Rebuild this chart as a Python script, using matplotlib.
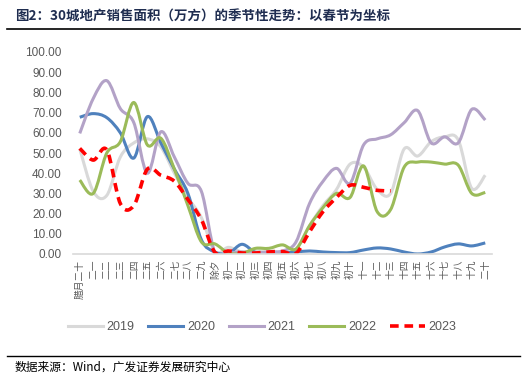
import matplotlib
matplotlib.use("Agg")
import matplotlib.pyplot as plt
from matplotlib.path import Path
from matplotlib.patches import PathPatch
from matplotlib.lines import Line2D
import numpy as np

plt.rcParams['font.family'] = ['Liberation Sans', 'Noto Sans CJK SC', 'DejaVu Sans']

x_labels = ['腊月二十', '二一', '二二', '二三', '二四', '二五', '二六', '二七', '二八', '二九',
            '除夕', '初一', '初二', '初三', '初四', '初五', '初六', '初七', '初八', '初九', '初十',
            '十一', '十二', '十三', '十四', '十五', '十六', '十七', '十八', '十九', '二十']

s2019 = [52, 31, 29, 48, 55, 57, 53, 40, 28, 18, 1, 3.3, 1, 1.5, 1.5, 1, 2.5, 14, 24, 32,
         44.5, 43, 32, 30, 52, 48.5, 55.6, 58, 56.5, 32.5, 39]
s2020 = [67.7, 69.5, 67.5, 60, 47.5, 68, 55, 42, 30, 7, 1, 0.3, 4.8, 0.8, 0.5, 0.5, 1, 1.5, 1,
         0.7, 0.7, 2, 3, 2.5, 1, 0, 1, 3.5, 5, 4, 5.5]
s2021 = [59.7, 77, 85.8, 72, 65, 40, 60.5, 48, 35, 31, 0.5, 0.5, 1, 0.5, 1, 1.5, 6, 25, 36,
         42.4, 35, 54, 57, 59, 65, 71, 55, 58, 55, 71.6, 66.3]
s2022 = [36.6, 30, 50, 55.6, 75, 54, 57.3, 42, 24, 6, 5, 0.5, 0.3, 2.8, 2.8, 4.5, 2.5, 14, 23,
         30, 28, 43.6, 21, 22, 43, 45.5, 45.5, 44.5, 44, 30, 30.5]
s2023 = [52.3, 46.5, 51.5, 25, 24, 42, 39, 36, 27, 17, 0.8, 1.5, 0.5, 0.5, 1, 1.2, 0.3, 11,
         21, 28, 34, 33, 31.5, 31.3]

series = [('2019', s2019, '#D9D9D9', '-'),
          ('2020', s2020, '#4F81BD', '-'),
          ('2021', s2021, '#B3A2C7', '-'),
          ('2022', s2022, '#9BBB59', '-'),
          ('2023', s2023, '#FF0000', '--')]


def smooth_path(ys):
    pts = np.column_stack([np.arange(len(ys), dtype=float), np.asarray(ys, dtype=float)])
    n = len(pts)
    verts = [pts[0]]
    codes = [Path.MOVETO]
    for i in range(n - 1):
        p0 = pts[i - 1] if i > 0 else pts[i]
        p1 = pts[i]
        p2 = pts[i + 1]
        p3 = pts[i + 2] if i + 2 < n else pts[i + 1]
        c1 = p1 + (p2 - p0) / 6.0
        c2 = p2 - (p3 - p1) / 6.0
        verts += [c1, c2, p2]
        codes += [Path.CURVE4] * 3
    return Path(verts, codes)


fig = plt.figure(figsize=(5.24, 3.84), dpi=100)
ax = fig.add_axes([73 / 524, 1 - 254 / 384, 419 / 524, 202 / 384])

handles = []
for name, ys, color, ls in series:
    if ls == '--':
        style = (0, (2.4, 1.6))
        lw = 2.6
    else:
        style = '-'
        lw = 2.2
    patch = PathPatch(smooth_path(ys), fill=False, edgecolor=color, lw=lw,
                      linestyle=style, capstyle='butt', joinstyle='round')
    ax.add_patch(patch)
    handles.append(Line2D([], [], color=color, lw=lw, linestyle=style, label=name))

ax.set_xlim(-0.5, len(x_labels) - 0.5)
ax.set_ylim(0, 100)
ax.set_yticks(np.arange(0, 101, 10))
ax.set_yticklabels([f'{v:.2f}' for v in range(0, 101, 10)], fontsize=8.5, color='#595959')
ax.set_xticks(np.arange(len(x_labels)))
ax.set_xticklabels(x_labels, rotation=90, fontsize=7, color='#595959',
                   family=['Noto Sans CJK SC', 'DejaVu Sans'])
ax.tick_params(axis='y', length=0, pad=8)
ax.tick_params(axis='x', length=0, pad=4)
for sp in ['top', 'right', 'left']:
    ax.spines[sp].set_visible(False)
ax.spines['bottom'].set_color('#D9D9D9')
ax.spines['bottom'].set_linewidth(1.2)

fig.legend(handles=handles, loc='center', bbox_to_anchor=(0.5, 1 - 327 / 384), ncol=5,
           frameon=False, fontsize=9, labelcolor='#595959', handlelength=2.8,
           columnspacing=1.1, handletextpad=0.3)

fig.text(15 / 524, 1 - 17 / 384, '图2：30城地产销售面积（万方）的季节性走势：以春节为坐标',
         fontsize=9.7, fontweight='bold', color='#1F2D50', va='center', ha='left',
         family=['Noto Sans CJK SC', 'DejaVu Sans'])
fig.add_artist(Line2D([7 / 524, 520 / 524], [1 - 29 / 384, 1 - 29 / 384], color='black', lw=1.2))
fig.add_artist(Line2D([7 / 524, 520 / 524], [1 - 356 / 384, 1 - 356 / 384], color='black', lw=1.0))
fig.text(15 / 524, 1 - 367 / 384, '数据来源：Wind，广发证券发展研究中心', fontsize=8.5,
         color='black', va='center', ha='left', family=['Noto Sans CJK SC', 'DejaVu Sans'])

fig.savefig('out.png', dpi=100)
